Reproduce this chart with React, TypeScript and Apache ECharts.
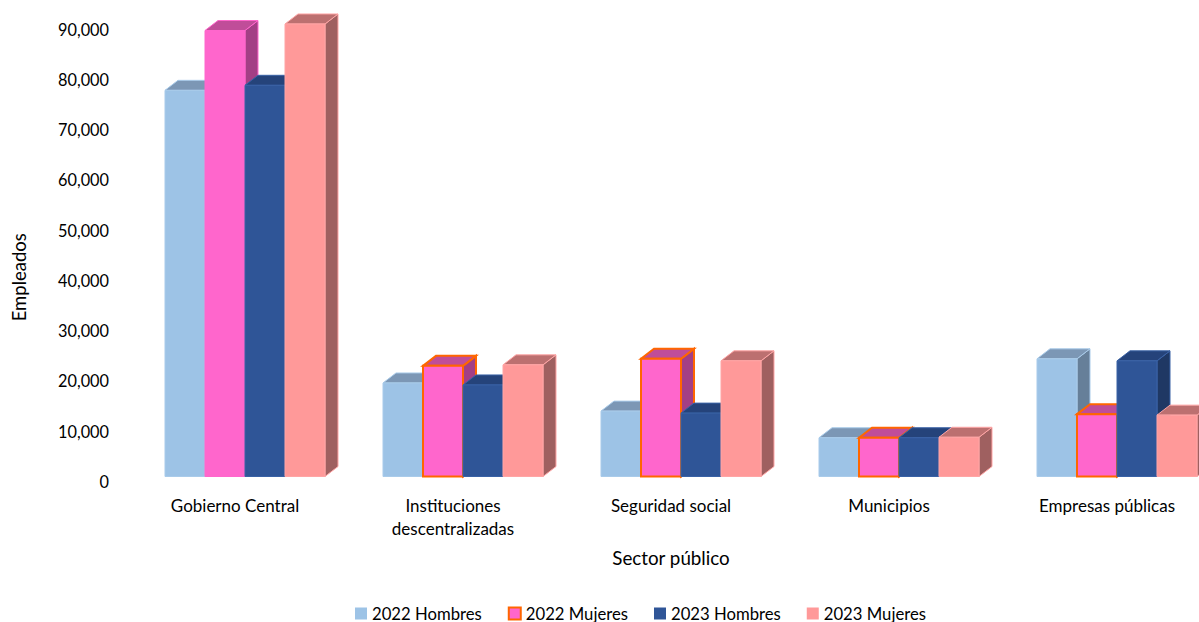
import React, { useEffect, useRef } from "react";
import * as echarts from "echarts";

const categories = ["Gobierno Central", "Instituciones\ndescentralizadas", "Seguridad social", "Municipios", "Empresas públicas"];
const hombres2022 = [77800, 19600, 14000, 8700, 24400];
const mujeres2022 = [89700, 23000, 24400, 8700, 13400];
const hombres2023 = [78800, 19200, 13600, 8700, 24000];
const mujeres2023 = [91000, 23200, 24000, 8800, 13200];
const mujeres2022Borders = ["#FF66CC", "#FF6600", "#FF6600", "#FF6600", "#FF6600"];

const FONT = "Lato";
const BAR_RATIO = 40 / 218;
const DEPTH_X = 13;
const DEPTH_Y = -10;
const SHIFT_X = 10;
const SHIFT_Y = -5;

type Tone = { name: string; values: number[]; front: string; top: string; side: string; border: string; borders?: string[]; lw: number };

const tones: Tone[] = [
  { name: "2022 Hombres", values: hombres2022, front: "#9DC3E6", top: "#7C97B5", side: "#667F99", border: "#A9CBEA", lw: 1 },
  { name: "2022 Mujeres", values: mujeres2022, front: "#FF66CC", top: "#C04D99", side: "#A33F85", border: "#FF6600", borders: mujeres2022Borders, lw: 2 },
  { name: "2023 Hombres", values: hombres2023, front: "#2F5597", top: "#25437A", side: "#1F3864", border: "#3A62A6", lw: 1 },
  { name: "2023 Mujeres", values: mujeres2023, front: "#FF9999", top: "#BC7070", side: "#9F6060", border: "#FFA5A5", lw: 1 },
];

function makeRenderItem(tone: Tone, index: number) {
  return (params: any, api: any) => {
    const cat = api.value(0);
    const value = api.value(1);
    const top = api.coord([cat, value]);
    const base = api.coord([cat, 0]);
    const band = api.size([1, 0])[0];
    const w = band * BAR_RATIO;
    const x0 = top[0] + SHIFT_X + (index - 2) * w;
    const x1 = x0 + w;
    const yTop = top[1];
    const yBase = base[1] + SHIFT_Y;
    const stroke = tone.borders ? tone.borders[params.dataIndex] : tone.border;
    const lineWidth = stroke === tone.front ? 1 : tone.lw;
    const common = { stroke, lineWidth };
    return {
      type: "group",
      children: [
        {
          type: "polygon",
          shape: { points: [[x1, yTop], [x1 + DEPTH_X, yTop + DEPTH_Y], [x1 + DEPTH_X, yBase + DEPTH_Y], [x1, yBase]] },
          style: { fill: tone.side, ...common },
        },
        {
          type: "polygon",
          shape: { points: [[x0, yTop], [x0 + DEPTH_X, yTop + DEPTH_Y], [x1 + DEPTH_X, yTop + DEPTH_Y], [x1, yTop]] },
          style: { fill: tone.top, ...common },
        },
        {
          type: "rect",
          shape: { x: x0, y: yTop, width: w, height: yBase - yTop },
          style: { fill: tone.front, ...common },
        },
      ],
    };
  };
}

export default function App() {
  const ref = useRef<HTMLDivElement>(null);
  useEffect(() => {
    document.body.style.margin = "0";
    document.body.style.overflow = "hidden";
    const chart = echarts.init(ref.current!, undefined, { renderer: "svg" });
    chart.setOption({
      animation: false,
      backgroundColor: "#ffffff",
      textStyle: { fontFamily: FONT, color: "#000000" },
      grid: { left: 126, width: 1090, top: 29, height: 452.5, containLabel: false, outerBoundsMode: "none" },
      legend: {
        left: 355,
        top: 605,
        padding: 0,
        itemWidth: 12,
        itemHeight: 12,
        itemGap: 26,
        icon: "rect",
        textStyle: { fontFamily: FONT, fontSize: 16.7, lineHeight: 16, color: "#000000" },
        data: tones.map((t) => t.name),
      },
      xAxis: {
        type: "category",
        data: categories,
        name: "Sector público",
        nameLocation: "middle",
        nameGap: 66,
        nameTextStyle: { fontFamily: FONT, fontSize: 18.8, color: "#000000" },
        axisLine: { show: false },
        axisTick: { show: false },
        splitLine: { show: false },
        axisLabel: { interval: 0, margin: 12, fontFamily: FONT, fontSize: 17, lineHeight: 23, color: "#000000" },
      },
      yAxis: {
        type: "value",
        min: 0,
        max: 90000,
        interval: 10000,
        name: "Empleados",
        nameLocation: "middle",
        nameGap: 98,
        nameRotate: 90,
        nameTextStyle: { fontFamily: FONT, fontSize: 18.5, color: "#000000", padding: [0, 44, 0, 0] },
        axisLine: { show: false },
        axisTick: { show: false },
        splitLine: { show: false },
        axisLabel: {
          margin: 17,
          fontFamily: FONT,
          fontSize: 16.3,
          color: "#000000",
          formatter: (v: number) => v.toLocaleString("en-US"),
        },
      },
      series: tones.map((t, i) => ({
        type: "custom",
        name: t.name,
        clip: false,
        z: 2 + i,
        itemStyle: { color: t.front, borderColor: t.border, borderWidth: t.lw === 2 ? 2 : 0 },
        encode: { x: 0, y: 1 },
        data: t.values.map((v, c) => [c, v]),
        renderItem: makeRenderItem(t, i),
      })),
    });
    return () => chart.dispose();
  }, []);
  return <div ref={ref} style={{ width: 1199, height: 622 }} />;
}
